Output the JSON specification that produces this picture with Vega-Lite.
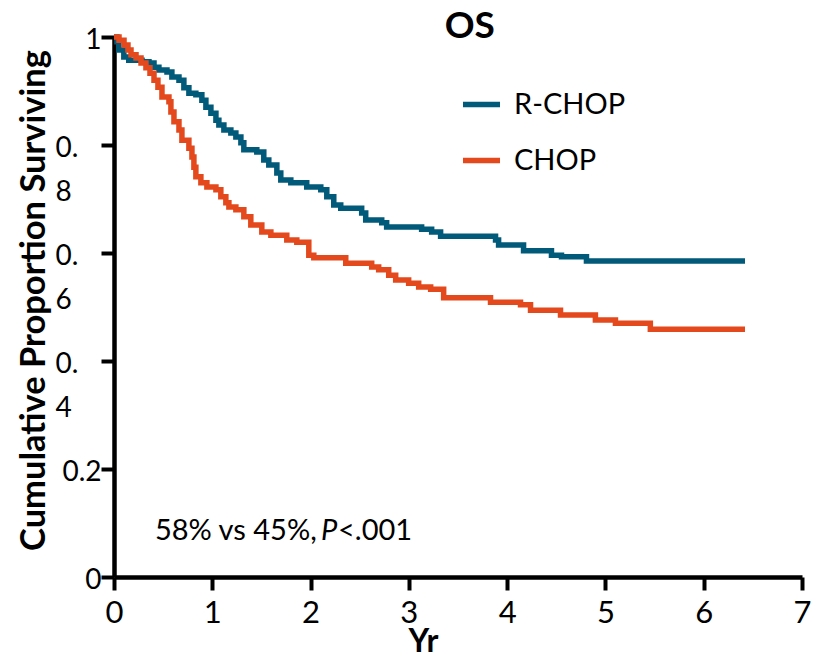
{
  "$schema": "https://vega.github.io/schema/vega-lite/v6.json",
  "autosize": {"type": "none"},
  "width": 688,
  "height": 540,
  "padding": {"left": 114, "top": 37, "right": 21, "bottom": 75},
  "background": "white",
  "config": {
    "view": {"stroke": null},
    "font": "Lato"
  },
  "layer": [
    {
      "data": {
        "values": [
          {"arm": "R-CHOP", "t": 0.0, "s": 1.0},
          {"arm": "R-CHOP", "t": 0.03, "s": 0.991},
          {"arm": "R-CHOP", "t": 0.05, "s": 0.976},
          {"arm": "R-CHOP", "t": 0.1, "s": 0.963},
          {"arm": "R-CHOP", "t": 0.15, "s": 0.957},
          {"arm": "R-CHOP", "t": 0.285, "s": 0.954},
          {"arm": "R-CHOP", "t": 0.356, "s": 0.952},
          {"arm": "R-CHOP", "t": 0.407, "s": 0.944},
          {"arm": "R-CHOP", "t": 0.457, "s": 0.939},
          {"arm": "R-CHOP", "t": 0.539, "s": 0.935},
          {"arm": "R-CHOP", "t": 0.589, "s": 0.926},
          {"arm": "R-CHOP", "t": 0.661, "s": 0.92},
          {"arm": "R-CHOP", "t": 0.711, "s": 0.906},
          {"arm": "R-CHOP", "t": 0.762, "s": 0.896},
          {"arm": "R-CHOP", "t": 0.833, "s": 0.893},
          {"arm": "R-CHOP", "t": 0.894, "s": 0.883},
          {"arm": "R-CHOP", "t": 0.935, "s": 0.87},
          {"arm": "R-CHOP", "t": 0.986, "s": 0.859},
          {"arm": "R-CHOP", "t": 1.037, "s": 0.846},
          {"arm": "R-CHOP", "t": 1.067, "s": 0.837},
          {"arm": "R-CHOP", "t": 1.118, "s": 0.828},
          {"arm": "R-CHOP", "t": 1.189, "s": 0.822},
          {"arm": "R-CHOP", "t": 1.24, "s": 0.815},
          {"arm": "R-CHOP", "t": 1.291, "s": 0.804},
          {"arm": "R-CHOP", "t": 1.321, "s": 0.791},
          {"arm": "R-CHOP", "t": 1.453, "s": 0.787},
          {"arm": "R-CHOP", "t": 1.524, "s": 0.772},
          {"arm": "R-CHOP", "t": 1.575, "s": 0.763},
          {"arm": "R-CHOP", "t": 1.657, "s": 0.748},
          {"arm": "R-CHOP", "t": 1.697, "s": 0.735},
          {"arm": "R-CHOP", "t": 1.799, "s": 0.73},
          {"arm": "R-CHOP", "t": 1.961, "s": 0.722},
          {"arm": "R-CHOP", "t": 2.104, "s": 0.717},
          {"arm": "R-CHOP", "t": 2.165, "s": 0.704},
          {"arm": "R-CHOP", "t": 2.236, "s": 0.689},
          {"arm": "R-CHOP", "t": 2.307, "s": 0.683},
          {"arm": "R-CHOP", "t": 2.52, "s": 0.674},
          {"arm": "R-CHOP", "t": 2.561, "s": 0.661},
          {"arm": "R-CHOP", "t": 2.724, "s": 0.656},
          {"arm": "R-CHOP", "t": 2.774, "s": 0.648},
          {"arm": "R-CHOP", "t": 3.13, "s": 0.644},
          {"arm": "R-CHOP", "t": 3.232, "s": 0.639},
          {"arm": "R-CHOP", "t": 3.323, "s": 0.631},
          {"arm": "R-CHOP", "t": 3.882, "s": 0.624},
          {"arm": "R-CHOP", "t": 3.913, "s": 0.615},
          {"arm": "R-CHOP", "t": 4.167, "s": 0.604},
          {"arm": "R-CHOP", "t": 4.451, "s": 0.596},
          {"arm": "R-CHOP", "t": 4.553, "s": 0.593},
          {"arm": "R-CHOP", "t": 4.807, "s": 0.585},
          {"arm": "R-CHOP", "t": 6.42, "s": 0.585},
          {"arm": "CHOP", "t": 0.0, "s": 1.0},
          {"arm": "CHOP", "t": 0.051, "s": 0.994},
          {"arm": "CHOP", "t": 0.102, "s": 0.985},
          {"arm": "CHOP", "t": 0.142, "s": 0.976},
          {"arm": "CHOP", "t": 0.173, "s": 0.967},
          {"arm": "CHOP", "t": 0.224, "s": 0.961},
          {"arm": "CHOP", "t": 0.275, "s": 0.952},
          {"arm": "CHOP", "t": 0.325, "s": 0.943},
          {"arm": "CHOP", "t": 0.366, "s": 0.933},
          {"arm": "CHOP", "t": 0.407, "s": 0.92},
          {"arm": "CHOP", "t": 0.447, "s": 0.907},
          {"arm": "CHOP", "t": 0.488, "s": 0.889},
          {"arm": "CHOP", "t": 0.559, "s": 0.88},
          {"arm": "CHOP", "t": 0.579, "s": 0.861},
          {"arm": "CHOP", "t": 0.61, "s": 0.843},
          {"arm": "CHOP", "t": 0.661, "s": 0.828},
          {"arm": "CHOP", "t": 0.691, "s": 0.809},
          {"arm": "CHOP", "t": 0.762, "s": 0.794},
          {"arm": "CHOP", "t": 0.793, "s": 0.778},
          {"arm": "CHOP", "t": 0.813, "s": 0.759},
          {"arm": "CHOP", "t": 0.833, "s": 0.741},
          {"arm": "CHOP", "t": 0.884, "s": 0.73},
          {"arm": "CHOP", "t": 0.945, "s": 0.722},
          {"arm": "CHOP", "t": 1.037, "s": 0.717},
          {"arm": "CHOP", "t": 1.087, "s": 0.704},
          {"arm": "CHOP", "t": 1.138, "s": 0.693},
          {"arm": "CHOP", "t": 1.169, "s": 0.685},
          {"arm": "CHOP", "t": 1.24, "s": 0.68},
          {"arm": "CHOP", "t": 1.321, "s": 0.667},
          {"arm": "CHOP", "t": 1.392, "s": 0.652},
          {"arm": "CHOP", "t": 1.504, "s": 0.639},
          {"arm": "CHOP", "t": 1.596, "s": 0.633},
          {"arm": "CHOP", "t": 1.758, "s": 0.624},
          {"arm": "CHOP", "t": 1.86, "s": 0.62},
          {"arm": "CHOP", "t": 1.982, "s": 0.596},
          {"arm": "CHOP", "t": 2.033, "s": 0.591},
          {"arm": "CHOP", "t": 2.358, "s": 0.581},
          {"arm": "CHOP", "t": 2.622, "s": 0.574},
          {"arm": "CHOP", "t": 2.693, "s": 0.569},
          {"arm": "CHOP", "t": 2.795, "s": 0.559},
          {"arm": "CHOP", "t": 2.866, "s": 0.55},
          {"arm": "CHOP", "t": 2.998, "s": 0.544},
          {"arm": "CHOP", "t": 3.1, "s": 0.537},
          {"arm": "CHOP", "t": 3.222, "s": 0.533},
          {"arm": "CHOP", "t": 3.354, "s": 0.517},
          {"arm": "CHOP", "t": 3.831, "s": 0.509},
          {"arm": "CHOP", "t": 4.136, "s": 0.504},
          {"arm": "CHOP", "t": 4.238, "s": 0.494},
          {"arm": "CHOP", "t": 4.543, "s": 0.485},
          {"arm": "CHOP", "t": 4.898, "s": 0.476},
          {"arm": "CHOP", "t": 5.102, "s": 0.47},
          {"arm": "CHOP", "t": 5.457, "s": 0.459},
          {"arm": "CHOP", "t": 6.42, "s": 0.459}
        ]
      },
      "mark": {"type": "line", "interpolate": "step-after", "strokeWidth": 5.5, "strokeJoin": "miter", "strokeCap": "butt"},
      "encoding": {
        "x": {
          "field": "t",
          "type": "quantitative",
          "scale": {"domain": [0, 7], "nice": false, "zero": false},
          "axis": {
            "values": [0, 1, 2, 3, 4, 5, 6, 7],
            "format": "d",
            "title": "Yr",
            "titleFont": "Lato",
            "titleFontSize": 32,
            "titleFontWeight": "bold",
            "titleColor": "black",
            "titleAnchor": "start",
            "titleAlign": "center",
            "titleBaseline": "alphabetic",
            "titleX": 309,
            "titleY": 74,
            "grid": false,
            "domainColor": "black",
            "domainWidth": 4.5,
            "tickColor": "black",
            "tickWidth": 4,
            "tickSize": 13,
            "labelFont": "Lato",
            "labelFontSize": 31,
            "labelColor": "black",
            "labelPadding": 8,
            "labelFlush": false,
            "labelOverlap": false
          }
        },
        "y": {
          "field": "s",
          "type": "quantitative",
          "scale": {"domain": [0, 1], "nice": false, "zero": false},
          "axis": {
            "values": [0, 0.2, 0.4, 0.6, 0.8, 1],
            "labelExpr": "datum.value > 0.3 && datum.value < 0.9 ? ['0.', format(datum.value * 10, '.0f')] : format(datum.value, '~g')",
            "title": "Cumulative Proportion Surviving",
            "titleFont": "Lato",
            "titleFontSize": 34.5,
            "titleFontWeight": "bold",
            "titleColor": "black",
            "titleAngle": -90,
            "titleAlign": "center",
            "titleBaseline": "alphabetic",
            "titleX": -70,
            "titleY": 263,
            "grid": false,
            "domainColor": "black",
            "domainWidth": 4.5,
            "tickColor": "black",
            "tickWidth": 4,
            "tickSize": 13,
            "labelFont": "Lato",
            "labelFontSize": 28,
            "labelColor": "black",
            "labelLineHeight": 44,
            "labelBaseline": "middle",
            "labelOffset": 3,
            "labelAlign": {"condition": {"test": "datum.value > 0.3 && datum.value < 0.9", "value": "left"}, "value": "right"},
            "labelPadding": {"condition": {"test": "datum.value > 0.3 && datum.value < 0.9", "value": 46}, "value": 0},
            "labelFlush": false,
            "labelOverlap": false,
            "labelBound": false
          }
        },
        "color": {
          "field": "arm",
          "type": "nominal",
          "scale": {"domain": ["R-CHOP", "CHOP"], "range": ["#015a79", "#e3491d"]},
          "legend": {
            "title": null,
            "orient": "none",
            "legendX": 346,
            "legendY": 46,
            "symbolType": "stroke",
            "symbolSize": 1369,
            "symbolStrokeWidth": 5.5,
            "labelFont": "Lato",
            "labelFontSize": 29,
            "labelColor": "black",
            "labelOffset": 11,
            "rowPadding": 19
          }
        }
      }
    },
    {
      "data": {"values": [{}]},
      "mark": {"type": "text", "font": "Lato", "fontSize": 37, "fontWeight": "bold", "align": "center", "baseline": "alphabetic", "fill": "black", "text": "OS"},
      "encoding": {"x": {"datum": 3.62}, "y": {"datum": 0.998}}
    },
    {
      "data": {"values": [{}]},
      "mark": {"type": "text", "font": "Lato", "fontSize": 29, "align": "left", "baseline": "alphabetic", "fill": "black", "text": "58% vs 45%,"},
      "encoding": {"x": {"datum": 0.417}, "y": {"datum": 0.0685}}
    },
    {
      "data": {"values": [{}]},
      "mark": {"type": "text", "font": "Lato", "fontSize": 29, "fontStyle": "italic", "align": "left", "baseline": "alphabetic", "fill": "black", "text": "P", "dx": 166},
      "encoding": {"x": {"datum": 0.417}, "y": {"datum": 0.0685}}
    },
    {
      "data": {"values": [{}]},
      "mark": {"type": "text", "font": "Lato", "fontSize": 29, "align": "left", "baseline": "alphabetic", "fill": "black", "text": "<.001", "dx": 183},
      "encoding": {"x": {"datum": 0.417}, "y": {"datum": 0.0685}}
    }
  ]
}
